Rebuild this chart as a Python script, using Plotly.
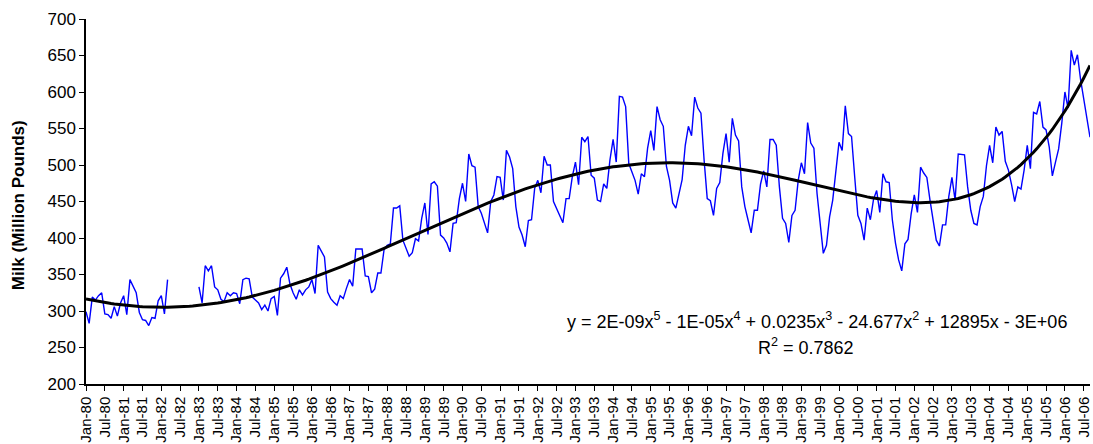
import numpy as np
import pandas as pd
import plotly.graph_objects as go

# ---- categories (monthly, Jan-80 .. Sep-06) ----
months = pd.date_range("1980-01-01", "2006-09-01", freq="MS")
month_labels = [d.strftime("%b-%y") for d in months]

# ---- monthly milk production (million pounds) ----
milk_1980 = [299, 283, 319, 315, 321, 325, 296, 295, 290, 306, 293, 311]
milk_1981 = [321, 295, 343, 333, 325, 298, 288, 287, 280, 291, 290, 314]
milk_1982 = [321, 296, 343, None, None, None, None, None, None, None, None, None]
milk_1983 = [333, 311, 362, 355, 362, 333, 329, 316, 313, 325, 321, 325]
milk_1984 = [324, 310, 343, 345, 344, 319, 315, 311, 302, 308, 300, 317]
milk_1985 = [320, 294, 345, 351, 360, 337, 325, 316, 329, 322, 329, 333]
milk_1986 = [343, 324, 390, 381, 374, 326, 317, 312, 308, 321, 317, 331]
milk_1987 = [343, 334, 385, 385, 385, 348, 347, 325, 330, 352, 352, 384]
milk_1988 = [390, 392, 441, 441, 444, 397, 386, 375, 380, 399, 396, 427]
milk_1989 = [448, 405, 474, 477, 471, 404, 400, 393, 381, 420, 421, 454]
milk_1990 = [475, 450, 515, 499, 497, 443, 434, 420, 407, 450, 459, 484]
milk_1991 = [483, 452, 520, 511, 495, 443, 415, 404, 388, 424, 425, 468]
milk_1992 = [479, 462, 512, 500, 500, 450, 440, 430, 421, 454, 454, 484]
milk_1993 = [504, 473, 538, 532, 539, 486, 482, 452, 450, 474, 468, 507]
milk_1994 = [535, 504, 594, 593, 580, 502, 489, 479, 460, 488, 484, 523]
milk_1995 = [547, 520, 580, 562, 553, 498, 479, 448, 441, 461, 480, 527]
milk_1996 = [553, 540, 593, 578, 571, 507, 454, 451, 431, 468, 476, 516]
milk_1997 = [543, 504, 564, 541, 533, 470, 443, 425, 407, 438, 438, 474]
milk_1998 = [492, 470, 535, 535, 527, 470, 427, 420, 394, 431, 438, 479]
milk_1999 = [503, 488, 558, 530, 523, 461, 415, 379, 390, 429, 452, 493]
milk_2000 = [531, 520, 581, 543, 539, 484, 431, 420, 397, 441, 425, 453]
milk_2001 = [465, 435, 488, 477, 476, 425, 393, 370, 355, 392, 398, 433]
milk_2002 = [459, 435, 497, 489, 483, 452, 422, 397, 389, 418, 418, 457]
milk_2003 = [483, 452, 515, 514, 514, 470, 438, 420, 418, 443, 457, 499]
milk_2004 = [527, 503, 552, 541, 546, 505, 493, 473, 450, 470, 467, 493]
milk_2005 = [527, 495, 572, 570, 587, 552, 548, 525, 485, 504, 522, 557]
milk_2006 = [600, 578, 657, 637, 651, 617, 591, 568, 538]

milk = (milk_1980 + milk_1981 + milk_1982 + milk_1983 + milk_1984 + milk_1985 +
        milk_1986 + milk_1987 + milk_1988 + milk_1989 + milk_1990 + milk_1991 +
        milk_1992 + milk_1993 + milk_1994 + milk_1995 + milk_1996 + milk_1997 +
        milk_1998 + milk_1999 + milk_2000 + milk_2001 + milk_2002 + milk_2003 +
        milk_2004 + milk_2005 + milk_2006)

equation_text = ("y = 2E-09x<sup>5</sup> - 1E-05x<sup>4</sup> + 0.0235x<sup>3</sup>"
                 " - 24.677x<sup>2</sup> + 12895x - 3E+06")
r2_text = "R<sup>2</sup> = 0.7862"
y_title = "Milk (Million Pounds)"

# ---- x positions: one category per month ----
x_idx = np.arange(len(month_labels))
tick_vals = list(x_idx[::6])
tick_text = [month_labels[i] for i in tick_vals]

# ---- polynomial (order 5) trendline, fitted like Excel does ----
yv = np.array([np.nan if v is None else v for v in milk], dtype=float)
ok = ~np.isnan(yv)
xs = x_idx / 100.0
coef = np.polyfit(xs[ok], yv[ok], 5)
trend = np.polyval(coef, xs)

FONT = "Arial, Liberation Sans, sans-serif"

fig = go.Figure()
fig.add_trace(go.Scatter(x=x_idx, y=milk, mode="lines",
                         line=dict(color="#0000FF", width=1.4),
                         connectgaps=False, showlegend=False, hoverinfo="skip"))
fig.add_trace(go.Scatter(x=x_idx, y=trend, mode="lines",
                         line=dict(color="#000000", width=3),
                         showlegend=False, hoverinfo="skip"))

fig.update_layout(
    width=1093, height=444,
    margin=dict(l=86, r=1, t=19, b=60),
    paper_bgcolor="white", plot_bgcolor="white",
    font=dict(family=FONT, color="black"),
    showlegend=False,
)
fig.update_xaxes(
    range=[0, len(month_labels) - 1],
    tickmode="array", tickvals=tick_vals, ticktext=tick_text,
    tickangle=-90, tickfont=dict(size=15, family=FONT, color="black"),
    ticklabeloverflow="allow",
    ticks="outside", ticklen=5, tickcolor="black",
    showline=True, linecolor="black", linewidth=1.5,
    showgrid=False, zeroline=False,
)
fig.update_yaxes(
    range=[200, 700], dtick=50,
    tickfont=dict(size=17, family=FONT, color="black"),
    ticks="outside", ticklen=5, tickcolor="black",
    showline=True, linecolor="black", linewidth=1.5,
    showgrid=False, zeroline=False,
)

fig.add_annotation(text=y_title, xref="paper", yref="paper",
                   x=(18 - 86) / 1006, y=0.49, textangle=-90,
                   showarrow=False, xanchor="center", yanchor="middle",
                   font=dict(size=17, family=FONT, color="black", weight="bold"))
fig.add_annotation(text=equation_text, xref="paper", yref="paper",
                   x=0.728, y=0.175, showarrow=False,
                   xanchor="center", yanchor="middle",
                   font=dict(size=18, family=FONT, color="black"))
fig.add_annotation(text=r2_text, xref="paper", yref="paper",
                   x=0.717, y=0.104, showarrow=False,
                   xanchor="center", yanchor="middle",
                   font=dict(size=18, family=FONT, color="black"))

fig.write_html("out.html",
               config={"displayModeBar": False},
               post_script="document.body.style.margin='0px';document.body.style.overflow='hidden';")
